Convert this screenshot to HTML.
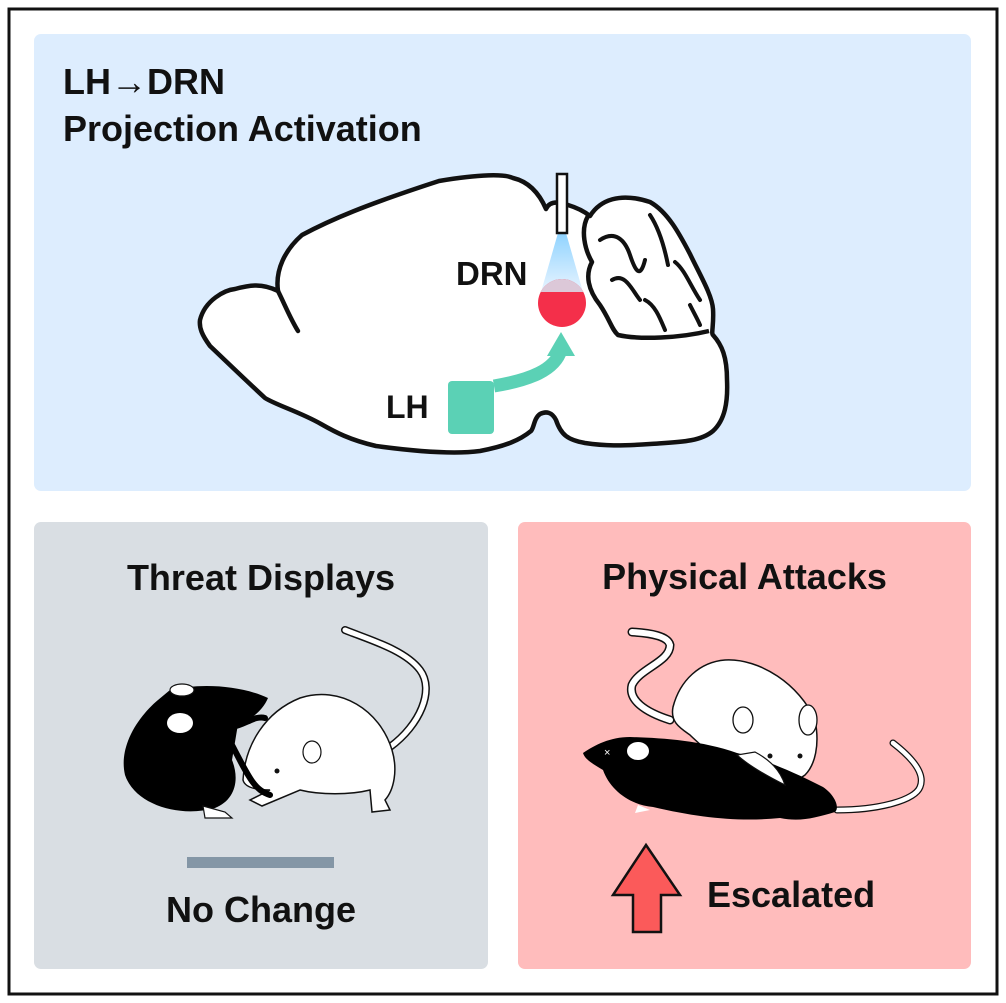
<!DOCTYPE html>
<html><head><meta charset="utf-8"><style>
html,body{margin:0;padding:0;background:#fff;}
body{width:1006px;height:1003px;position:relative;overflow:hidden;font-family:"Liberation Sans",sans-serif;}
.t{position:absolute;font-weight:bold;color:#111;white-space:nowrap;}
</style></head><body>
<svg width="1006" height="1003" style="position:absolute;left:0;top:0">
<rect x="9" y="9" width="988" height="985" fill="#fff" stroke="#111" stroke-width="3"/>
<rect x="34" y="34" width="937" height="457" rx="7" fill="#ddedfe"/>
<rect x="34" y="522" width="454" height="447" rx="7" fill="#d9dee3"/>
<rect x="518" y="522" width="453" height="447" rx="7" fill="#ffbcbc"/>
<!-- brain -->
<path d="M200,320 C205,300 225,290 235,289 C250,285 262,283 278,291 C275,270 285,250 302,235 C330,220 365,205 439,181 C480,174 505,174 513,178 C530,182 540,195 546,209 C550,200 560,202 568,205 C578,208 585,212 590,216 C600,200 620,192 650,202 C668,212 680,235 690,254 C700,275 712,295 713,309 C714,325 711,333 713,335 C722,345 727,357 727,380 C728,402 725,420 713,431 C700,442 679,442 650,444 C620,446 605,446 585,443 C568,440 561,435 556,420 C552,412 546,411 540,414 C534,418 534,428 531,431 C520,440 506,446 480,451 C457,454 420,452 376,446 C350,440 335,432 321,424 C300,412 276,405 265,398 C254,388 230,365 210,346 C202,335 199,328 200,320 Z" fill="#fff" stroke="#111" stroke-width="4.5" stroke-linejoin="round"/>
<path d="M278,291 C285,305 290,318 298,331" fill="none" stroke="#111" stroke-width="4.5" stroke-linecap="round"/>
<path d="M588,216 C580,230 585,250 592,262 C585,275 588,290 600,305 C610,320 612,330 618,335 C640,340 680,338 709,331" fill="none" stroke="#111" stroke-width="4.5" stroke-linejoin="round"/>
<path d="M600,240 C615,230 625,240 630,255 C635,270 640,280 645,260 M612,280 C625,272 632,290 640,300 M650,215 C660,230 665,250 668,265 M675,262 C685,270 690,285 700,300 M645,300 C655,305 660,318 665,330 M690,305 C695,315 698,320 700,325" fill="none" stroke="#111" stroke-width="4" stroke-linecap="round"/>
<defs><linearGradient id="cone" x1="0" y1="0" x2="0" y2="1"><stop offset="0" stop-color="#8fd3ff"/><stop offset="1" stop-color="#e8f4ff"/></linearGradient></defs>
<polygon points="558,233 566,233 583,292 541,292" fill="url(#cone)"/>
<rect x="557" y="174" width="10" height="59" fill="#fff" stroke="#111" stroke-width="2.5"/>
<clipPath id="cp"><circle cx="562" cy="303" r="24"/></clipPath>
<circle cx="562" cy="303" r="24" fill="#f42f4a"/>
<rect x="536" y="278" width="52" height="14" fill="#dcc8d8" clip-path="url(#cp)"/>
<path d="M494,386 C530,380 555,370 561,350" fill="none" stroke="#5bd1b5" stroke-width="13"/>
<polygon points="561,332 575,356 547,356" fill="#5bd1b5"/>
<rect x="448" y="381" width="46" height="53" rx="4" fill="#5bd1b5"/>
<!-- left mice -->
<path d="M390,747 C420,725 435,690 420,670 C405,650 370,640 345,630" fill="none" stroke="#111" stroke-width="8" stroke-linecap="round"/>
<path d="M390,747 C420,725 435,690 420,670 C405,650 370,640 345,630" fill="none" stroke="#fff" stroke-width="5" stroke-linecap="round"/>
<path d="M243,780 C245,745 265,712 300,698 C340,685 380,710 392,750 C398,770 394,790 385,800 L390,810 L372,812 L370,790 C350,795 320,795 300,790 L262,806 L250,800 L270,790 C258,790 245,788 243,780 Z" fill="#fff" stroke="#111" stroke-width="1.5"/>
<ellipse cx="312" cy="752" rx="9" ry="11" fill="#fff" stroke="#111" stroke-width="1.2"/>
<circle cx="277" cy="771" r="2.5" fill="#111"/>
<path d="M170,690 C200,683 240,685 268,698 C262,712 250,720 238,724 L232,760 C240,780 235,800 215,808 C180,818 135,805 125,775 C118,745 140,715 158,700 Z" fill="#000"/>
<path d="M232,727 C245,725 255,715 265,718 M232,745 C250,780 255,790 270,795" fill="none" stroke="#000" stroke-width="6" stroke-linecap="round"/>
<ellipse cx="182" cy="690" rx="12" ry="6" fill="#fff" stroke="#111" stroke-width="1.2"/>
<ellipse cx="180" cy="723" rx="13" ry="10" fill="#fff"/>
<path d="M203,806 L225,812 L232,818 L205,818 Z" fill="#fff" stroke="#111" stroke-width="1.2"/>
<!-- right mice -->
<path d="M670,720 C645,712 628,700 632,685 C640,668 670,662 670,645 C668,636 650,633 632,632" fill="none" stroke="#111" stroke-width="9" stroke-linecap="round"/>
<path d="M670,720 C645,712 628,700 632,685 C640,668 670,662 670,645 C668,636 650,633 632,632" fill="none" stroke="#fff" stroke-width="6" stroke-linecap="round"/>
<path d="M673,707 C680,680 700,662 725,660 C760,658 800,685 815,720 C820,745 815,765 805,775 L790,785 C780,790 770,782 760,770 C748,765 740,768 740,780 L730,778 C720,760 700,745 690,735 C680,728 670,722 673,707 Z" fill="#fff" stroke="#111" stroke-width="1.5"/>
<path d="M837,810 C880,810 915,800 920,787 C925,775 915,760 893,743" fill="none" stroke="#111" stroke-width="7" stroke-linecap="round"/>
<path d="M837,810 C880,810 915,800 920,787 C925,775 915,760 893,743" fill="none" stroke="#fff" stroke-width="4.5" stroke-linecap="round"/>
<path d="M583,753 C595,745 610,737 630,737 C660,738 700,740 737,753 C760,758 790,770 823,787 C835,795 840,808 835,812 C815,818 800,822 780,818 C740,822 700,818 653,807 C630,805 610,790 603,770 C595,765 585,760 583,753 Z" fill="#000"/>
<path d="M737,755 C748,765 765,775 785,785 C780,770 770,760 755,752 Z" fill="#fff" stroke="#111" stroke-width="1.2"/>
<ellipse cx="808" cy="720" rx="9" ry="15" fill="#fff" stroke="#111" stroke-width="1.3"/>
<ellipse cx="743" cy="720" rx="10" ry="13" fill="#fff" stroke="#111" stroke-width="1.3"/>
<circle cx="770" cy="756" r="2.5" fill="#111"/><circle cx="800" cy="756" r="2.5" fill="#111"/>
<ellipse cx="638" cy="751" rx="11" ry="9" fill="#fff"/>
<text x="604" y="756" fill="#fff" font-size="11" font-family="Liberation Sans">×</text>
<path d="M638,805 L650,810 L635,813 Z" fill="#fff"/>
<rect x="187" y="857" width="147" height="11" fill="#8496a6"/>
<polygon points="646,845 680,895 661,895 661,932 633,932 633,895 613,895" fill="#fb5a5a" stroke="#111" stroke-width="2.5" stroke-linejoin="miter"/>
</svg>
<div class="t" style="left:63px;top:58px;font-size:36px;line-height:47px">LH→DRN<br>Projection Activation</div>
<div class="t" style="left:456px;top:255px;font-size:33px">DRN</div>
<div class="t" style="left:386px;top:389px;font-size:32px">LH</div>
<div class="t" style="left:34px;width:454px;text-align:center;top:557px;font-size:36px">Threat Displays</div>
<div class="t" style="left:34px;width:454px;text-align:center;top:889px;font-size:36px">No Change</div>
<div class="t" style="left:518px;width:453px;text-align:center;top:556px;font-size:36px">Physical Attacks</div>
<div class="t" style="left:707px;top:874px;font-size:36px">Escalated</div>
</body></html>
